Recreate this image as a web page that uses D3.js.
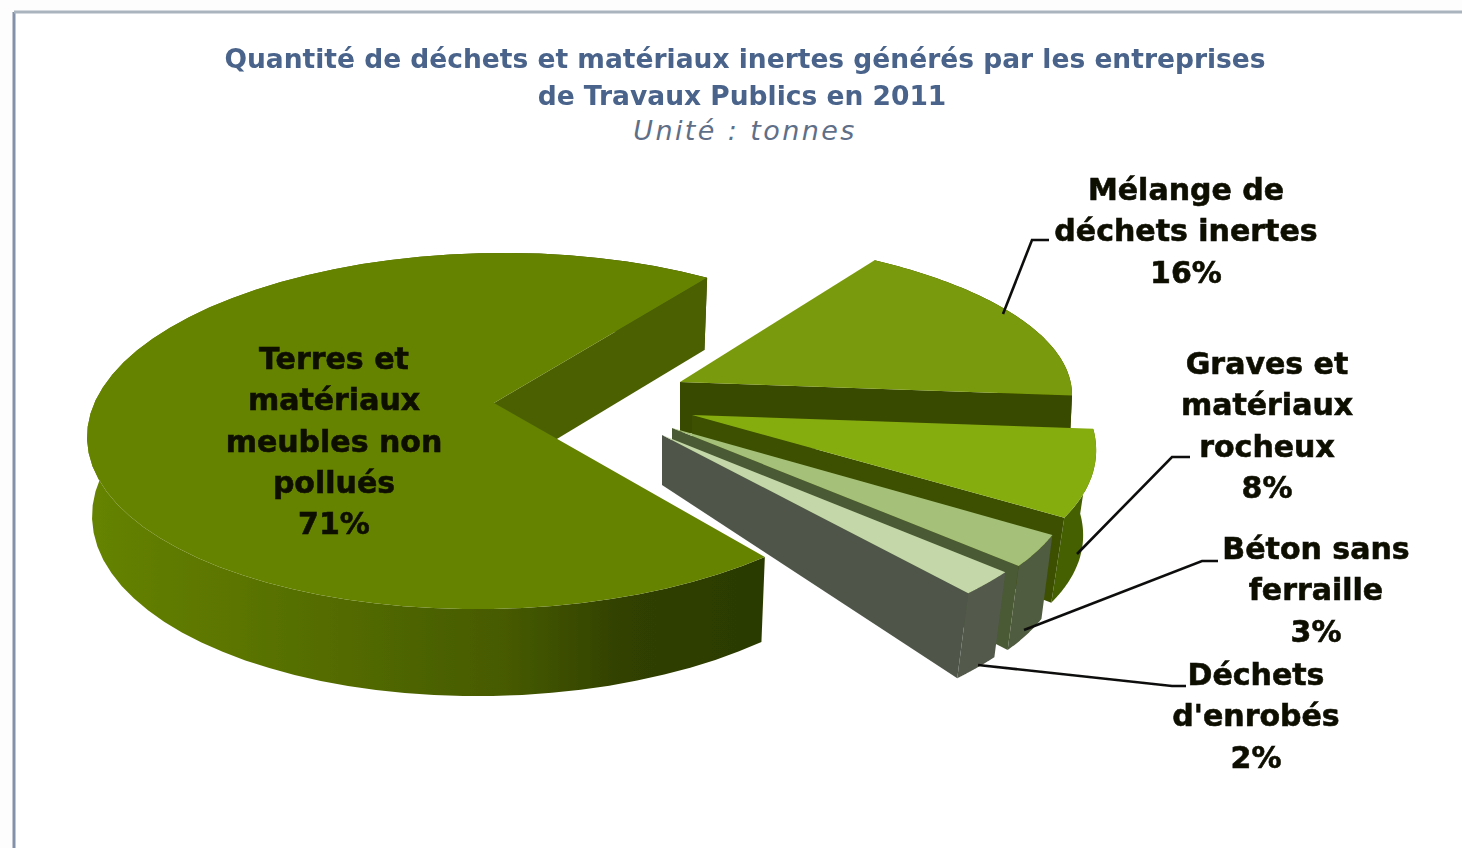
<!DOCTYPE html>
<html>
<head>
<meta charset="utf-8">
<script src="https://cdn.jsdelivr.net/npm/d3@7"></script>
<style>
   html, body { margin: 0; padding: 0; background: #fdfdfd; overflow: hidden; }
   text { text-anchor: middle; font-family: "DejaVu Sans", Lato, sans-serif; }
   .label { font-size: 30px; font-weight: 700; fill: #0b0b06; stroke: #0b0b06; stroke-width: 0.6px; }
</style>
</head>
<body>
<svg id="chart" width="1462" height="848"></svg>
<script>
/*global d3*/
var categories = ["Terres et matériaux meubles non pollués", "Mélange de déchets inertes",
      "Graves et matériaux rocheux", "Béton sans ferraille", "Déchets d'enrobés"],
   values = [71, 16, 8, 3, 2],
   labelLines = [
      ["Terres et", "matériaux", "meubles non", "pollués"],
      ["Mélange de", "déchets inertes"],
      ["Graves et", "matériaux", "rocheux"],
      ["Béton sans", "ferraille"],
      ["Déchets", "d'enrobés"]
   ],
   titleLines = ["Quantité de déchets et matériaux inertes générés par les entreprises",
      "de Travaux Publics en 2011"],
   subtitle = "Unité : tonnes";

// drawing setup, kept apart from the values
var topColors = ["#668300", "#799a08", "#85ad0f", "#a5c078", "#c3d7a8"],
   cutColors = ["#4b6000", "#394900", "#3c5000", "#4a5a34", "#50574a"],
   wallColors = ["url(#bigWall)", "#394900", "#446000", "#4f5b3f", "#535a4c"],
   // ellipse of the top face: cx, cy, rx, ry, kx, ky
   rims = [
      [490, 431, 403, 178, 0, -6],
      [644, 395, 428, 160, 0, 0],
      [663, 428, 430, 185, 52, 0],
      [639, 438, 430, 200, 77, 0],
      [675, 425, 430, 230, 0, 0]
   ],
   // same for the bottom face
   bases = [
      [490, 510, 398, 186, 0, -6],
      [640, 480, 428, 160, 0, 0],
      [650, 513, 430, 185, 52, 0],
      [628, 522, 430, 200, 77, 0],
      [664, 510, 430, 230, 0, 0]
   ],
   tips = [[494, 403], [680, 382], [692, 415], [672, 428], [662, 435]],
   tipBases = [[494, 477], [680, 432], [692, 465], [672, 478], [662, 485]],
   labelX = [334, 1186, 1267, 1316, 1256],
   labelY = [369, 200, 374, 559, 685],
   leaders = [
      null,
      [[1003, 314], [1032, 240], [1049, 240]],
      [[1077, 554], [1172, 457], [1190, 457]],
      [[1024, 630], [1202, 561], [1218, 561]],
      [[978, 665], [1172, 686], [1186, 686]]
   ],
   lineGap = 41.3;

(function () {
   "use strict";
   var svg = d3.select("#chart"),
      defs = svg.append("defs"),
      start = 47 * Math.PI / 180,
      pie = d3.pie().sort(null).startAngle(start).endAngle(start + 2 * Math.PI),
      arcs = pie(values),
      path = d3.line(),
      soft,
      grad,
      body,
      order = [1, 2, 3, 4, 0];

   soft = defs.append("filter").attr("id", "soft");
   soft.append("feGaussianBlur").attr("stdDeviation", 0.7);

   grad = defs.append("linearGradient").attr("id", "bigWall")
      .attr("gradientUnits", "userSpaceOnUse")
      .attr("x1", 87).attr("x2", 765).attr("y1", 0).attr("y2", 0);
   [[0, "#668300"], [0.2, "#5c7600"], [0.45, "#4f6602"], [0.62, "#465a00"], [0.8, "#303f00"], [1, "#2b3a00"]]
      .forEach(function (s) {
         grad.append("stop").attr("offset", s[0]).attr("stop-color", s[1]);
      });

   function rimPoint(e, t) {
      return [e[0] + e[2] * Math.cos(t) + e[4] * Math.sin(t),
         e[1] + e[3] * Math.sin(t) + e[5] * Math.cos(t)];
   }

   function rimPoints(e, a) {
      return d3.range(0, 61).map(function (i) {
         return rimPoint(e, a.startAngle + (a.endAngle - a.startAngle) * i / 60);
      });
   }

   // frame of the original picture
   svg.append("rect").attr("x", 15).attr("y", 12).attr("width", 1447).attr("height", 836).attr("fill", "#ffffff");
   svg.append("path").attr("d", path([[14, 848], [14, 12]])).attr("fill", "none")
      .attr("stroke", "#8391aa").attr("stroke-width", 3);
   svg.append("path").attr("d", path([[14, 12], [1462, 12]])).attr("fill", "none")
      .attr("stroke", "#aab4bf").attr("stroke-width", 3);

   body = svg.append("g").attr("filter", "url(#soft)");

   order.forEach(function (i) {
      var a = arcs[i],
         g = body.append("g").attr("class", "slice"),
         top = rimPoints(rims[i], a),
         base = rimPoints(bases[i], a);

      // outer wall
      g.append("path")
         .attr("d", path(top.concat(base.slice().reverse())) + "Z")
         .attr("fill", wallColors[i]);
      // cut face on the end edge
      g.append("path")
         .attr("d", path([tips[i], top[60], base[60], tipBases[i]]) + "Z")
         .attr("fill", cutColors[i]);
      // top face
      g.append("path")
         .attr("d", path([tips[i]].concat(top)) + "Z")
         .attr("fill", topColors[i]);
   });

   leaders.forEach(function (pts) {
      if (pts) {
         body.append("path").attr("d", path(pts)).attr("fill", "none")
            .attr("stroke", "#10100c").attr("stroke-width", 2.6);
      }
   });

   // titles
   titleLines.forEach(function (line, i) {
      svg.append("text")
         .attr("x", i === 0 ? 745 : 742)
         .attr("y", i === 0 ? 68 : 105)
         .attr("font-size", 26.5)
         .attr("font-weight", 700)
         .attr("fill", "#48638a")
         .attr("filter", "url(#soft)")
         .text(line);
   });
   svg.append("text")
      .attr("x", 745).attr("y", 140)
      .attr("font-size", 27)
      .attr("font-style", "italic")
      .attr("letter-spacing", 2.4)
      .attr("fill", "#5f6f88")
      .text(subtitle);

   // labels
   labelLines.forEach(function (lines, i) {
      var all = lines.concat(values[i] + "%");
      all.forEach(function (line, j) {
         svg.append("text")
            .attr("class", "label")
            .attr("x", labelX[i])
            .attr("y", labelY[i] + j * lineGap)
            .attr("filter", "url(#soft)")
            .text(line);
      });
   });
}());
</script>
</body>
</html>
